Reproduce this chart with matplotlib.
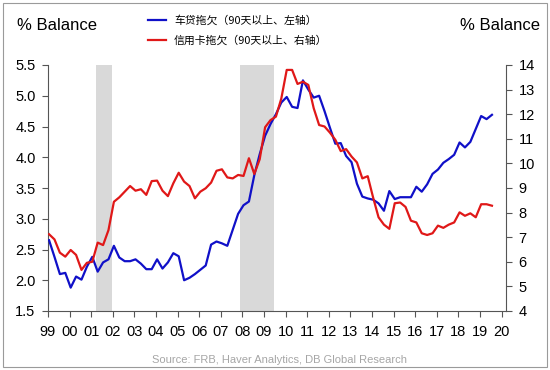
import matplotlib
matplotlib.use("Agg")
import matplotlib.pyplot as plt
import numpy as np
from matplotlib.patches import Rectangle

plt.rcParams['font.family'] = ['Liberation Sans', 'Noto Sans CJK SC', 'DejaVu Sans']

# quarterly data, 1999Q1 .. 2019Q3
auto_loan = [  # % balance 90+ days delinquent, left axis
    2.65, 2.38, 2.10, 2.12,   # 1999
    1.88, 2.06, 2.01, 2.22,   # 2000
    2.38, 2.14, 2.29, 2.34,   # 2001
    2.56, 2.37, 2.31, 2.31,   # 2002
    2.34, 2.27, 2.18, 2.18,   # 2003
    2.34, 2.19, 2.29, 2.44,   # 2004
    2.39, 2.00, 2.04, 2.10,   # 2005
    2.17, 2.24, 2.58, 2.63,   # 2006
    2.60, 2.56, 2.82, 3.08,   # 2007
    3.22, 3.28, 3.71, 4.05,   # 2008
    4.35, 4.54, 4.70, 4.89,   # 2009
    4.98, 4.82, 4.80, 5.25,   # 2010
    5.10, 4.97, 5.00, 4.75,   # 2011
    4.48, 4.22, 4.23, 4.02,   # 2012
    3.92, 3.57, 3.36, 3.33,   # 2013
    3.31, 3.25, 3.13, 3.45,   # 2014
    3.32, 3.35, 3.35, 3.35,   # 2015
    3.52, 3.44, 3.56, 3.73,   # 2016
    3.80, 3.91, 3.97, 4.04,   # 2017
    4.24, 4.16, 4.25, 4.46,   # 2018
    4.67, 4.62, 4.69,         # 2019
]
credit_card = [  # right axis
    7.12, 6.91, 6.37, 6.21,   # 1999
    6.48, 6.28, 5.67, 5.96,   # 2000
    6.00, 6.78, 6.68, 7.29,   # 2001
    8.44, 8.62, 8.85, 9.08,   # 2002
    8.89, 8.95, 8.72, 9.28,   # 2003
    9.30, 8.89, 8.67, 9.19,   # 2004
    9.62, 9.26, 9.08, 8.58,   # 2005
    8.85, 8.99, 9.22, 9.70,   # 2006
    9.76, 9.43, 9.39, 9.53,   # 2007
    9.49, 10.21, 9.57, 10.17, # 2008
    11.47, 11.76, 11.90, 12.64,  # 2009
    13.80, 13.80, 13.23, 13.32,  # 2010
    13.19, 12.24, 11.56, 11.50,  # 2011
    11.25, 10.96, 10.50, 10.58,  # 2012
    10.28, 10.04, 9.39, 9.48,    # 2013
    8.61, 7.81, 7.51, 7.34,      # 2014
    8.38, 8.41, 8.23, 7.67,      # 2015
    7.60, 7.16, 7.09, 7.16,      # 2016
    7.47, 7.38, 7.51, 7.60,      # 2017
    8.01, 7.87, 7.97, 7.81,      # 2018
    8.34, 8.34, 8.28,            # 2019
]
recessions = [(2001.2, 2001.95), (2007.9, 2009.45)]
years = list(range(1999, 2021))
year_labels = [f"{y % 100:02d}" for y in years]
legend_labels = ["车贷拖欠（90天以上、左轴）", "信用卡拖欠（90天以上、右轴）"]

t = 1999.05 + 0.25 * np.arange(len(auto_loan))

fig = plt.figure(figsize=(5.5, 3.7), dpi=100)
ax = fig.add_axes([48 / 550, 1 - 311 / 370, (506 - 48) / 550, (311 - 65) / 370])
ax2 = ax.twinx()

for a, b in recessions:
    ax.axvspan(a, b, color="#d9d9d9", lw=0, zorder=0)

blue, = ax.plot(t, auto_loan, color="#1010c8", lw=1.6, zorder=3)
red, = ax2.plot(t, credit_card, color="#e01818", lw=1.6, zorder=3)

ax.set_xlim(1999, 2020.2)
ax.set_ylim(1.5, 5.5)
ax2.set_ylim(4, 14)
ax.set_yticks(np.arange(1.5, 5.51, 0.5))
ax.set_yticklabels([f"{v:.1f}" for v in np.arange(1.5, 5.51, 0.5)])
ax2.set_yticks(range(4, 15))
ax.set_xticks(years)
ax.set_xticklabels(year_labels)

for a in (ax, ax2):
    a.spines["top"].set_visible(False)
    for s in a.spines.values():
        s.set_color("#555555")
        s.set_linewidth(0.8)
ax.spines["right"].set_visible(False)
ax2.spines["left"].set_visible(False)
ax2.spines["bottom"].set_visible(False)
ax.tick_params(axis="both", direction="out", length=4, width=0.8, color="#555555", labelsize=10.5, pad=5)
ax.tick_params(axis="x", pad=6)
ax2.tick_params(axis="y", direction="out", length=4, width=0.8, color="#555555", labelsize=10.5, pad=5)

fig.text(17 / 550, 1 - 26 / 370, "% Balance", fontsize=12, va="center", ha="left")
fig.text(540 / 550, 1 - 26 / 370, "% Balance", fontsize=12, va="center", ha="right")

fig.legend([blue, red], legend_labels, loc="upper left", bbox_to_anchor=(148 / 550, 1 - 15 / 370),
           frameon=False, prop={"family": ["Noto Sans CJK SC"], "size": 7.8},
           handlelength=1.7, handletextpad=0.7, labelspacing=0.85, borderpad=0, borderaxespad=0)

fig.text(280 / 550, 1 - 360 / 370, "Source: FRB, Haver Analytics, DB Global Research",
         fontsize=8, color="#a6a6a6", ha="center", va="center")

fig.add_artist(Rectangle((3 / 550, 3 / 370), 544 / 550, 364 / 370, transform=fig.transFigure,
                         fill=False, edgecolor="#9a9a9a", lw=0.8))

fig.savefig("out.png", dpi=100)
